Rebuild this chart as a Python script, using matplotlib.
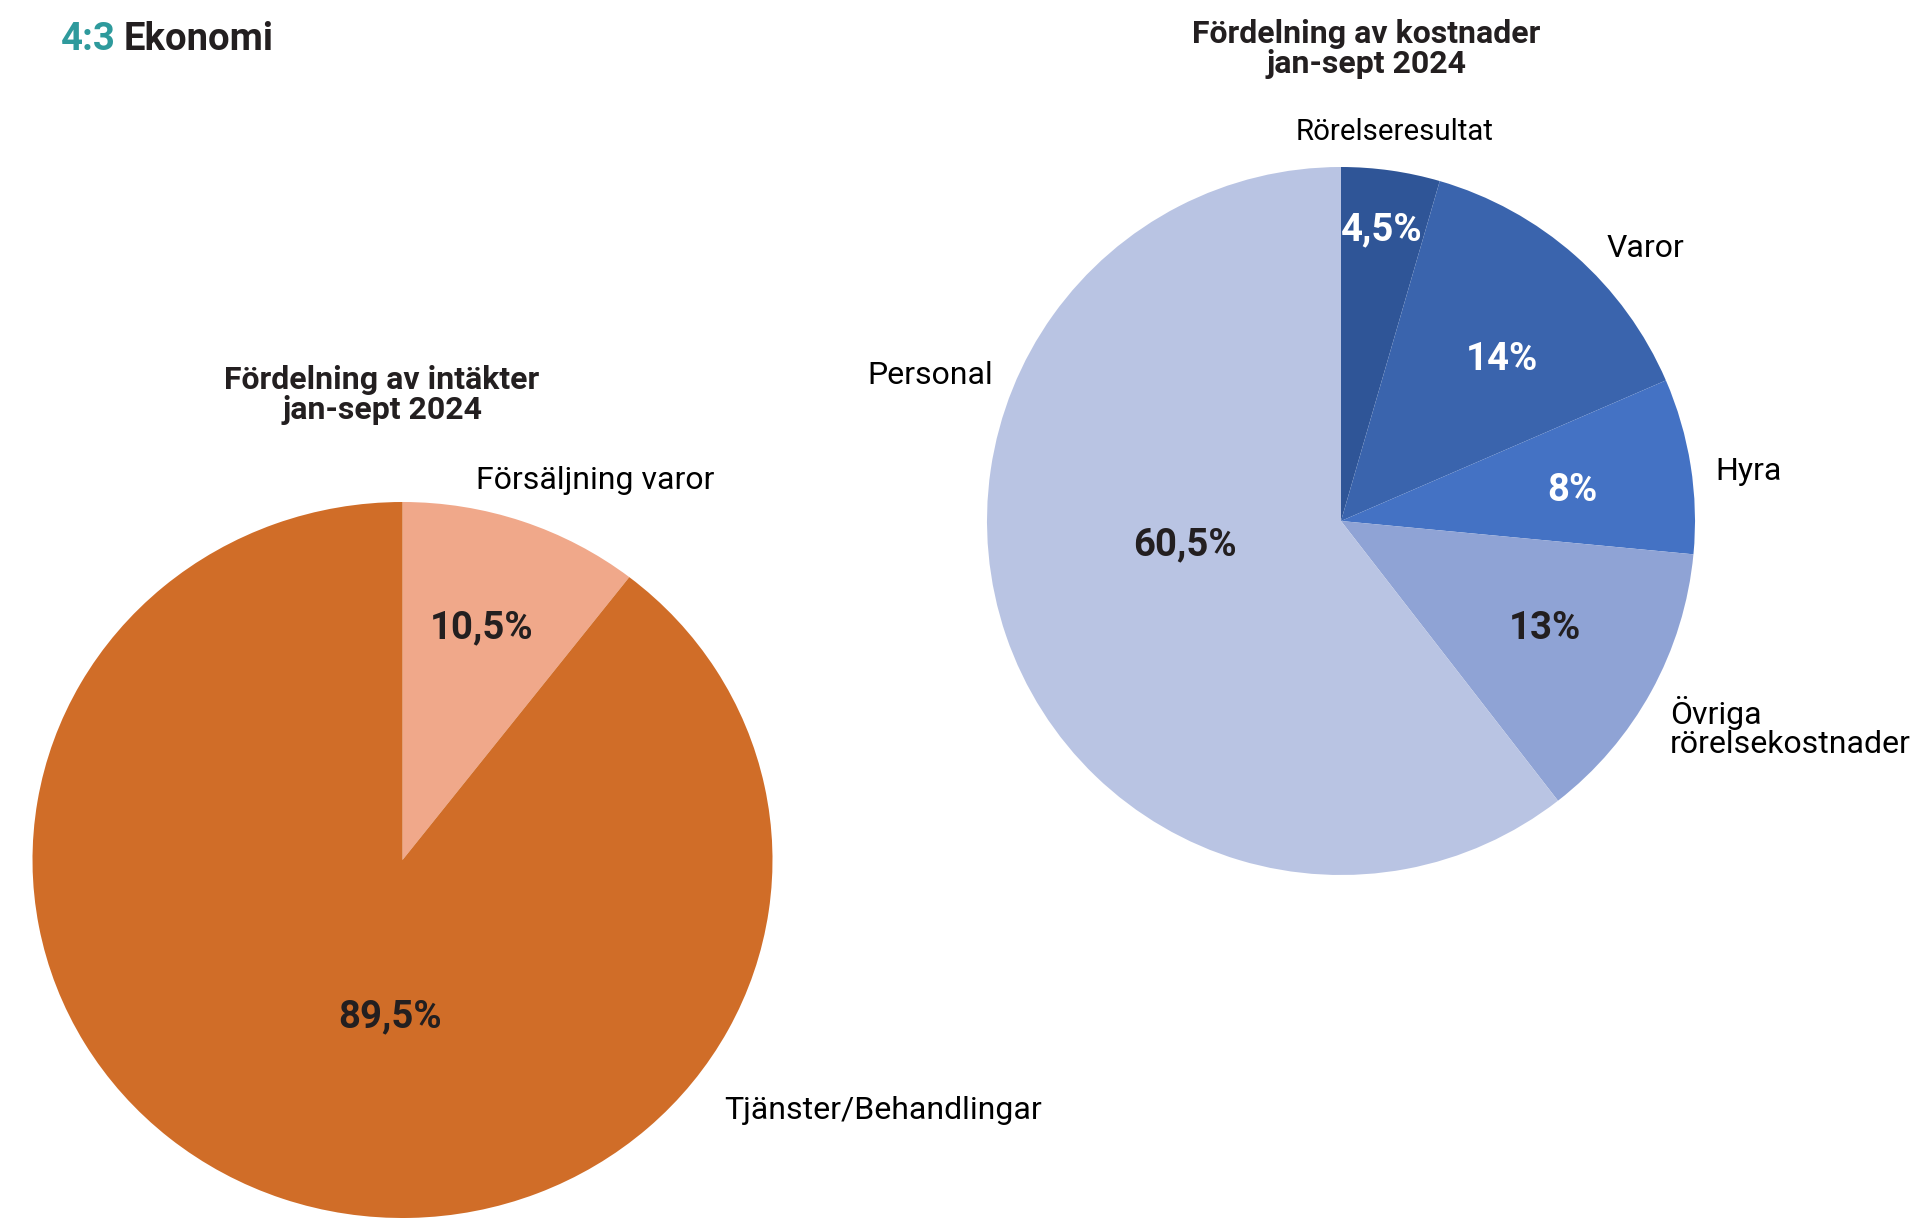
import matplotlib.pyplot as plt

plt.rcParams['font.family'] = ['Roboto', 'DejaVu Sans']

# data
inc_labels = ['Försäljning varor', 'Tjänster/Behandlingar']
inc_values = [10.5, 89.5]
inc_pct = ['10,5%', '89,5%']

cost_labels = ['Rörelseresultat', 'Varor', 'Hyra', 'Övriga\nrörelsekostnader', 'Personal']
cost_values = [4.5, 14, 8, 13, 60.5]
cost_pct = ['4,5%', '14%', '8%', '13%', '60,5%']

inc_colors = ['#F0A88A', '#D06D28']
cost_colors = ['#2F5597', '#3A64AD', '#4472C4', '#8FA3D5', '#B9C4E3']
cost_pct_colors = ['white', 'white', 'white', '#231F20', '#231F20']
cost_lab_sizes = [21.2, 23, 23, 23, 23]

# label placement (in pie radius units)
inc_lab_pos = [(0.52, 1.06), (1.30, -0.70)]
inc_pct_pos = [(0.215, 0.648), (-0.034, -0.439)]
cost_lab_pos = [(0.150, 1.099), (0.859, 0.771), (1.150, 0.141), (0.929, -0.582), (-1.161, 0.412)]
cost_pct_pos = [(0.116, 0.822), (0.455, 0.455), (0.653, 0.085), (0.576, -0.305), (-0.441, -0.068)]

W, H = 1919, 1218
fig = plt.figure(figsize=(W / 100, H / 100), dpi=100)

dark = '#231F20'

def place(ax, left, top, width, height):
    ax.set_position([left / W, 1 - (top + height) / H, width / W, height / H])

# left pie - income
ax1 = fig.add_axes([0, 0, 1, 1])
ax1.pie(inc_values, colors=inc_colors, startangle=90, counterclock=False,
        wedgeprops=dict(linewidth=0))
ax1.set_aspect('auto')
ax1.set_xlim(-1, 1)
ax1.set_ylim(-1, 1)
place(ax1, 32.5, 502, 740, 716)
for i, lab in enumerate(inc_labels):
    x, y = inc_lab_pos[i]
    ax1.text(x, y, lab, ha='center', va='center', fontsize=23, color='black')
    x, y = inc_pct_pos[i]
    ax1.text(x, y, inc_pct[i], ha='center', va='center', fontsize=27.5,
             fontweight='bold', color=dark)

# right pie - costs
ax2 = fig.add_axes([0, 0, 1, 1])
ax2.pie(cost_values, colors=cost_colors, startangle=90, counterclock=False,
        wedgeprops=dict(linewidth=0))
ax2.set_aspect('auto')
ax2.set_xlim(-1, 1)
ax2.set_ylim(-1, 1)
place(ax2, 987, 167, 708, 708)
for i, lab in enumerate(cost_labels):
    x, y = cost_lab_pos[i]
    ha = 'left' if i == 3 else 'center'
    ax2.text(x, y, lab, ha=ha, va='center', fontsize=cost_lab_sizes[i], color='black',
             linespacing=1.0)
    x, y = cost_pct_pos[i]
    ax2.text(x, y, cost_pct[i], ha='center', va='center', fontsize=27.5,
             fontweight='bold', color=cost_pct_colors[i])

# titles
fig.text(382 / W, 1 - 395 / H, 'Fördelning av intäkter\njan-sept 2024', ha='center',
         va='center', fontsize=23, fontweight='bold', color=dark, linespacing=0.97)
fig.text(1366 / W, 1 - 49 / H, 'Fördelning av kostnader\njan-sept 2024', ha='center',
         va='center', fontsize=23, fontweight='bold', color=dark, linespacing=0.97)

fig.text(61 / W, 1 - 50 / H, '4:3', ha='left', va='baseline', fontsize=27.5,
         fontweight='bold', color='#2E9A9C')
fig.text(124 / W, 1 - 50 / H, 'Ekonomi', ha='left', va='baseline', fontsize=27.5,
         fontweight='bold', color=dark)

fig.savefig('out.png', dpi=100, facecolor='white')
